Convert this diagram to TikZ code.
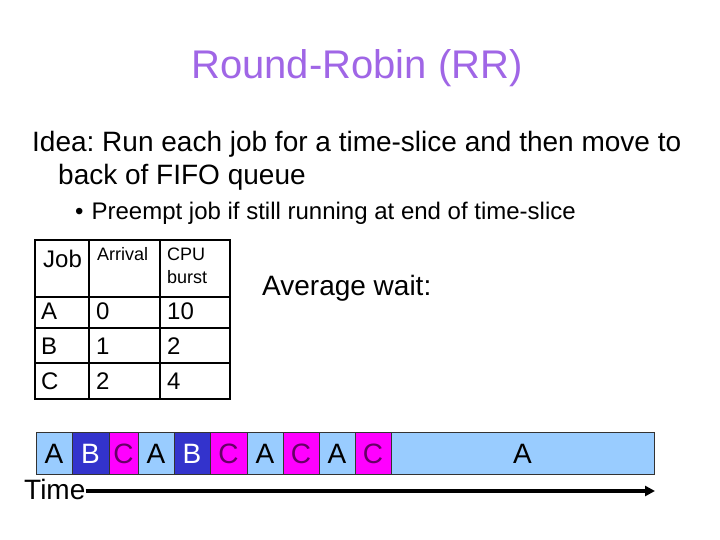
\documentclass[tikz,border=0pt]{standalone}
\usepackage{fontspec}
\setmainfont{Liberation Sans}
\usetikzlibrary{arrows.meta}
\definecolor{ttl}{RGB}{160,102,230}
\definecolor{ca}{RGB}{153,204,255}
\definecolor{cb}{RGB}{51,51,204}
\definecolor{cc}{RGB}{255,0,255}
\definecolor{ctext}{RGB}{102,0,102}
\frenchspacing
\tikzset{
  txt/.style={inner sep=0pt, anchor=base west},
  cellA/.style={draw=black!80, line width=0.8pt, fill=ca},
  cellB/.style={draw=black!80, line width=0.8pt, fill=cb},
  cellC/.style={draw=black!80, line width=0.8pt, fill=cc},
  glab/.style={inner sep=0pt, anchor=base, font=\fontsize{28}{32}\selectfont},
  tbl/.style={line width=2.2pt},
  big/.style={txt, font=\fontsize{24}{28}\selectfont},
  small/.style={txt, font=\fontsize{18}{21}\selectfont},
}
\begin{document}
\begin{tikzpicture}[x=1pt,y=-1pt]
\useasboundingbox[fill=white] (0,0) rectangle (720,540);
% title
\node[inner sep=0pt, text=ttl, font=\fontsize{40}{46}\selectfont, anchor=base] (title) at (357,79) {Round-Robin (RR)};
% body text
\node[txt, font=\fontsize{28}{32}\selectfont] (idea1) at (32,152) {Idea: Run each job for a time-slice and then move to};
\node[txt, font=\fontsize{28}{32}\selectfont] (idea2) at (58,185) {back of FIFO queue};
\node[txt, font=\fontsize{24}{28}\selectfont] (bullet) at (75,220) {•\hspace{8pt}Preempt job if still running at end of time-slice};
% table
\draw[tbl] (35,240) rectangle (230,399);
\draw[tbl] (89,240) -- (89,399);
\draw[tbl] (160,240) -- (160,399);
\draw[tbl] (35,297) -- (230,297);
\draw[tbl] (35,328) -- (230,328);
\draw[tbl] (35,363) -- (230,363);
\node[big] (hjob) at (43,267) {Job};
\node[small] (harr) at (97,260) {Arrival};
\node[small] (hcpu1) at (167,260) {CPU};
\node[small] (hcpu2) at (167,283) {burst};
\node[big] (ra) at (41,319) {A};
\node[big] (ra2) at (96,319) {0};
\node[big] (ra3) at (167,319) {10};
\node[big] (rb) at (41,354) {B};
\node[big] (rb2) at (96,354) {1};
\node[big] (rb3) at (167,354) {2};
\node[big] (rc) at (41,389) {C};
\node[big] (rc2) at (96,389) {2};
\node[big] (rc3) at (167,389) {4};
\node[txt, font=\fontsize{28}{32}\selectfont] (avg) at (262,295) {Average wait:};
% gantt
\foreach \xa/\xb/\st/\lab/\col [count=\i] in {
  36/72/cellA/A/black, 72/109/cellB/B/white, 109/138/cellC/C/ctext,
  138/174/cellA/A/black, 174/210/cellB/B/white, 210/247/cellC/C/ctext,
  247/283/cellA/A/black, 283/319/cellC/C/ctext, 319/355/cellA/A/black,
  355/391/cellC/C/ctext, 391/654/cellA/A/black}{
  \draw[\st] (\xa,432) rectangle (\xb,474);
  \node[glab, text=\col] (g\i) at ({(\xa+\xb)/2},463) {\lab};
}
\node[txt, font=\fontsize{28}{32}\selectfont] (time) at (24,499) {Time};
\coordinate (tend) at (655,491);
\draw[line width=3.8pt, -{Triangle[length=10pt,width=10pt]}] (time.east |- tend) -- (tend);
\end{tikzpicture}
\end{document}
